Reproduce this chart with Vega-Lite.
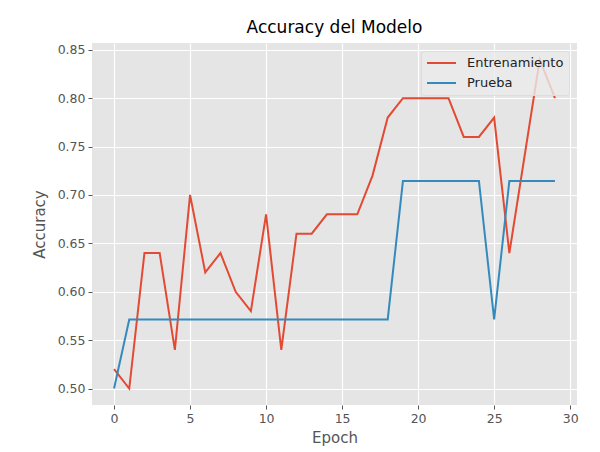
{
  "$schema": "https://vega.github.io/schema/vega-lite/v6.json",
  "autosize": {"type": "none"},
  "width": 485,
  "height": 362,
  "padding": {"left": 92, "top": 43, "right": 23, "bottom": 47},
  "background": "white",
  "title": {"text": "Accuracy del Modelo", "font": "DejaVu Sans", "fontSize": 17, "fontWeight": "normal", "color": "#000000", "anchor": "middle", "offset": 6},
  "config": {
    "view": {"fill": "#E5E5E5", "stroke": null},
    "axis": {
      "labelFont": "DejaVu Sans", "labelFontSize": 12.5, "labelColor": "#555555",
      "titleFont": "DejaVu Sans", "titleFontSize": 15, "titleColor": "#555555", "titleFontWeight": "normal",
      "gridColor": "#FFFFFF", "gridWidth": 1.2, "gridOpacity": 1,
      "tickColor": "#555555", "tickSize": 4, "tickWidth": 1,
      "domain": false, "labelPadding": 3
    },
    "legend": {"labelFont": "DejaVu Sans", "labelFontSize": 13, "labelColor": "#222222"}
  },
  "data": {"values": [
    {"epoch": 0, "series": "Entrenamiento", "acc": 0.52},
    {"epoch": 1, "series": "Entrenamiento", "acc": 0.50},
    {"epoch": 2, "series": "Entrenamiento", "acc": 0.64},
    {"epoch": 3, "series": "Entrenamiento", "acc": 0.64},
    {"epoch": 4, "series": "Entrenamiento", "acc": 0.54},
    {"epoch": 5, "series": "Entrenamiento", "acc": 0.70},
    {"epoch": 6, "series": "Entrenamiento", "acc": 0.62},
    {"epoch": 7, "series": "Entrenamiento", "acc": 0.64},
    {"epoch": 8, "series": "Entrenamiento", "acc": 0.60},
    {"epoch": 9, "series": "Entrenamiento", "acc": 0.58},
    {"epoch": 10, "series": "Entrenamiento", "acc": 0.68},
    {"epoch": 11, "series": "Entrenamiento", "acc": 0.54},
    {"epoch": 12, "series": "Entrenamiento", "acc": 0.66},
    {"epoch": 13, "series": "Entrenamiento", "acc": 0.66},
    {"epoch": 14, "series": "Entrenamiento", "acc": 0.68},
    {"epoch": 15, "series": "Entrenamiento", "acc": 0.68},
    {"epoch": 16, "series": "Entrenamiento", "acc": 0.68},
    {"epoch": 17, "series": "Entrenamiento", "acc": 0.72},
    {"epoch": 18, "series": "Entrenamiento", "acc": 0.78},
    {"epoch": 19, "series": "Entrenamiento", "acc": 0.80},
    {"epoch": 20, "series": "Entrenamiento", "acc": 0.80},
    {"epoch": 21, "series": "Entrenamiento", "acc": 0.80},
    {"epoch": 22, "series": "Entrenamiento", "acc": 0.80},
    {"epoch": 23, "series": "Entrenamiento", "acc": 0.76},
    {"epoch": 24, "series": "Entrenamiento", "acc": 0.76},
    {"epoch": 25, "series": "Entrenamiento", "acc": 0.78},
    {"epoch": 26, "series": "Entrenamiento", "acc": 0.64},
    {"epoch": 27, "series": "Entrenamiento", "acc": 0.74},
    {"epoch": 28, "series": "Entrenamiento", "acc": 0.84},
    {"epoch": 29, "series": "Entrenamiento", "acc": 0.80},
    {"epoch": 0, "series": "Prueba", "acc": 0.5},
    {"epoch": 1, "series": "Prueba", "acc": 0.5714},
    {"epoch": 2, "series": "Prueba", "acc": 0.5714},
    {"epoch": 3, "series": "Prueba", "acc": 0.5714},
    {"epoch": 4, "series": "Prueba", "acc": 0.5714},
    {"epoch": 5, "series": "Prueba", "acc": 0.5714},
    {"epoch": 6, "series": "Prueba", "acc": 0.5714},
    {"epoch": 7, "series": "Prueba", "acc": 0.5714},
    {"epoch": 8, "series": "Prueba", "acc": 0.5714},
    {"epoch": 9, "series": "Prueba", "acc": 0.5714},
    {"epoch": 10, "series": "Prueba", "acc": 0.5714},
    {"epoch": 11, "series": "Prueba", "acc": 0.5714},
    {"epoch": 12, "series": "Prueba", "acc": 0.5714},
    {"epoch": 13, "series": "Prueba", "acc": 0.5714},
    {"epoch": 14, "series": "Prueba", "acc": 0.5714},
    {"epoch": 15, "series": "Prueba", "acc": 0.5714},
    {"epoch": 16, "series": "Prueba", "acc": 0.5714},
    {"epoch": 17, "series": "Prueba", "acc": 0.5714},
    {"epoch": 18, "series": "Prueba", "acc": 0.5714},
    {"epoch": 19, "series": "Prueba", "acc": 0.7143},
    {"epoch": 20, "series": "Prueba", "acc": 0.7143},
    {"epoch": 21, "series": "Prueba", "acc": 0.7143},
    {"epoch": 22, "series": "Prueba", "acc": 0.7143},
    {"epoch": 23, "series": "Prueba", "acc": 0.7143},
    {"epoch": 24, "series": "Prueba", "acc": 0.7143},
    {"epoch": 25, "series": "Prueba", "acc": 0.5714},
    {"epoch": 26, "series": "Prueba", "acc": 0.7143},
    {"epoch": 27, "series": "Prueba", "acc": 0.7143},
    {"epoch": 28, "series": "Prueba", "acc": 0.7143},
    {"epoch": 29, "series": "Prueba", "acc": 0.7143}
  ]},
  "mark": {"type": "line", "strokeWidth": 2, "clip": true},
  "encoding": {
    "x": {"field": "epoch", "type": "quantitative", "title": "Epoch",
      "scale": {"domain": [-1.45, 30.45], "nice": false, "zero": false},
      "axis": {"values": [0, 5, 10, 15, 20, 25, 30], "titlePadding": 6}},
    "y": {"field": "acc", "type": "quantitative", "title": "Accuracy",
      "scale": {"domain": [0.483, 0.857], "nice": false, "zero": false},
      "axis": {"values": [0.5, 0.55, 0.6, 0.65, 0.7, 0.75, 0.8, 0.85], "format": ".2f", "titlePadding": 10}},
    "color": {"field": "series", "type": "nominal",
      "scale": {"domain": ["Entrenamiento", "Prueba"], "range": ["#E24A33", "#348ABD"]},
      "legend": {"title": null, "orient": "top-right", "offset": 8, "symbolType": "stroke", "symbolSize": 841, "symbolStrokeWidth": 2,
        "clipHeight": 14, "rowPadding": 6,
        "fillColor": "rgba(235,235,235,0.8)", "strokeColor": "#dddddd", "padding": 5, "cornerRadius": 3, "labelOffset": 10}}
  }
}
